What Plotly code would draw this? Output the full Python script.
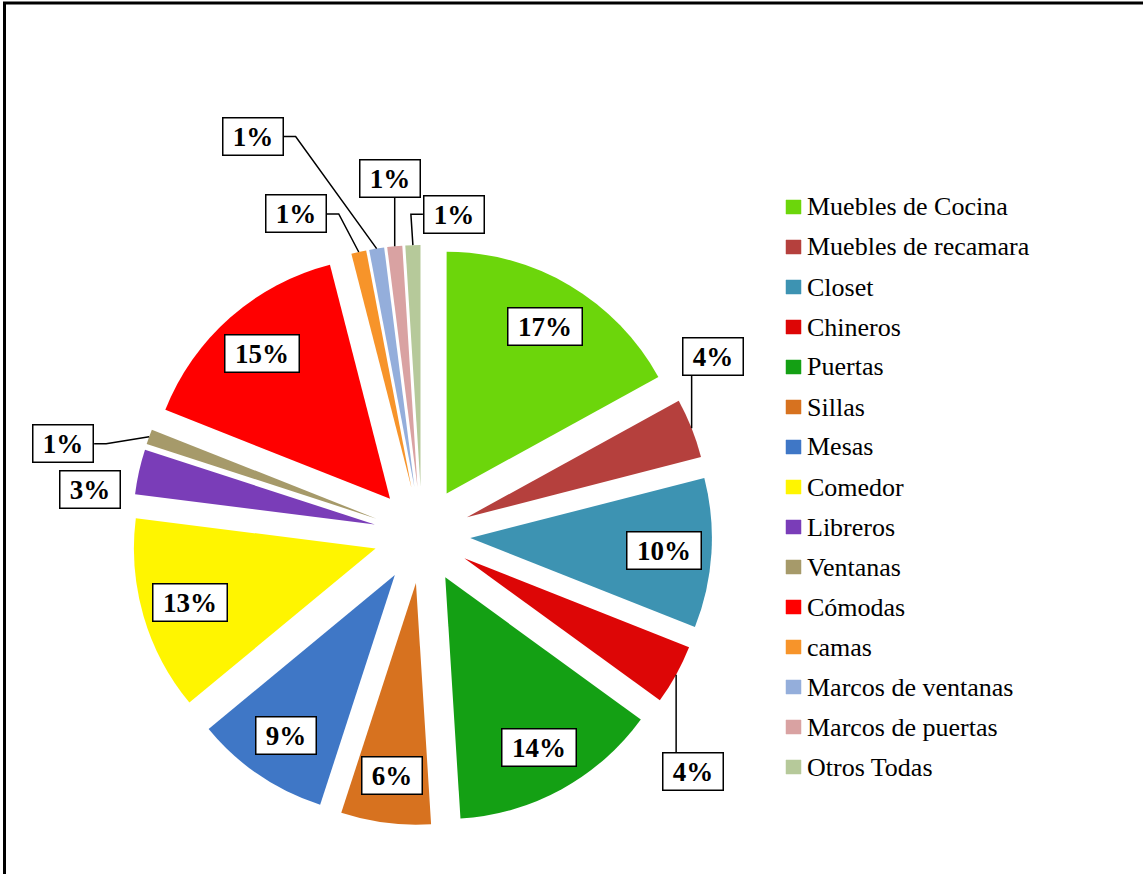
import math
import plotly.graph_objects as go

# ---- data -------------------------------------------------------------
categories = [
    "Muebles de Cocina", "Muebles de recamara", "Closet", "Chineros",
    "Puertas", "Sillas", "Mesas", "Comedor", "Libreros", "Ventanas",
    "Cómodas", "camas", "Marcos de ventanas", "Marcos de puertas",
    "Otros Todas",
]
shares = [17, 4, 10, 4, 14, 6, 9, 13, 3, 1, 15, 1, 1, 1, 1]

colors = [
    "#6CD60B", "#B5403D", "#3D93B2", "#DD0606", "#14A014",
    "#D7721F", "#3F77C6", "#FFF500", "#7A3DB8", "#A69A6A",
    "#FF0000", "#F7942A", "#94AEDB", "#D9A2A2", "#B6C99A",
]

# ---- page geometry (pixels) ----------------------------------------------
W, H = 1143, 874
CX, CY = 422, 535        # pie centre
R_OUT = 290              # radius including the pulled-out slices
PULL = 0.2
LABEL_R = 242            # distance of inside labels from the centre

SERIF = "Liberation Serif, Times New Roman, serif"


def fx(px):
    return px / W


def fy(py):
    return 1 - py / H


# labels placed outside the slice: (leader style, box offset from slice tip)
outside_labels = {
    1: ("v", (21, -72)),
    3: ("v", (17, 97)),
    8: ("none", (-49, 18)),
    9: ("h", (-86, 7)),
    11: ("h", (-63, -38)),
    12: ("h", (-124, -112)),
    13: ("v", (-5, -68)),
    14: ("h", (41, -31)),
}

fig = go.Figure(
    go.Pie(
        labels=categories,
        values=shares,
        sort=False,
        direction="clockwise",
        rotation=0,
        pull=[PULL] * len(shares),
        marker=dict(colors=colors, line=dict(width=0)),
        textinfo="none",
        hoverinfo="label+percent",
        showlegend=False,
        domain=dict(x=[fx(CX - R_OUT), fx(CX + R_OUT)],
                    y=[fy(CY + R_OUT), fy(CY - R_OUT)]),
    )
)

annotations = []
shapes = []

total = sum(shares)
cum = 0
for i, v in enumerate(shares):
    mid = math.radians(90 - 360 * (cum + v / 2) / total)
    cum += v
    text = f"<b>{v}%</b>"
    box_w = 51 if len(str(v)) == 1 else 65
    half_w = (box_w + 11) / 2
    half_h = (28 + 11) / 2

    if i in outside_labels:
        style, (dx, dy) = outside_labels[i]
        ax = CX + R_OUT * math.cos(mid)
        ay = CY - R_OUT * math.sin(mid)
        bx, by = ax + dx, ay + dy
        if style == "v":
            edge_y = by + half_h if by < ay else by - half_h
            shapes.append(dict(type="line", xref="paper", yref="paper",
                               x0=fx(ax), y0=fy(ay), x1=fx(ax), y1=fy(edge_y),
                               line=dict(color="black", width=1.5)))
        elif style == "h":
            sgn = 1 if ax > bx else -1
            side_x = bx + sgn * half_w
            elbow_x = side_x + sgn * 12
            path = (f"M {fx(side_x)} {fy(by)} L {fx(elbow_x)} {fy(by)} "
                    f"L {fx(ax)} {fy(ay)}")
            shapes.append(dict(type="path", xref="paper", yref="paper",
                               path=path, line=dict(color="black", width=1.5)))
    else:
        bx = CX + LABEL_R * math.cos(mid)
        by = CY - LABEL_R * math.sin(mid)

    annotations.append(dict(
        x=fx(bx), y=fy(by), xref="paper", yref="paper",
        xanchor="center", yanchor="middle", showarrow=False,
        text=text, width=box_w, height=28, borderpad=4, xshift=0,
        bordercolor="black", borderwidth=1.5, bgcolor="white",
        font=dict(family=SERIF, size=27, color="black"),
    ))

# ---- legend drawn as a column of swatches and names -----------------------
LEG_X, LEG_Y0, LEG_STEP = 786, 207, 40
for i, (name, col) in enumerate(zip(categories, colors)):
    yc = LEG_Y0 + i * LEG_STEP
    shapes.append(dict(type="rect", xref="paper", yref="paper",
                       x0=fx(LEG_X), x1=fx(LEG_X + 15),
                       y0=fy(yc + 7), y1=fy(yc - 7),
                       fillcolor=col, line=dict(color=col, width=0.5)))
    annotations.append(dict(
        x=fx(LEG_X + 19), y=fy(yc), xref="paper", yref="paper",
        xanchor="left", yanchor="middle", showarrow=False,
        text=name, font=dict(family=SERIF, size=26, color="black"),
    ))

# chart frame
shapes.append(dict(type="rect", xref="paper", yref="paper",
                   x0=fx(4.5), y0=-0.05, x1=1.05, y1=fy(3),
                   line=dict(color="black", width=3)))

fig.update_layout(
    width=W, height=H,
    margin=dict(l=0, r=0, t=0, b=0),
    paper_bgcolor="white", plot_bgcolor="white",
    showlegend=False,
    annotations=annotations,
    shapes=shapes,
)

fig.write_html("out.html")
